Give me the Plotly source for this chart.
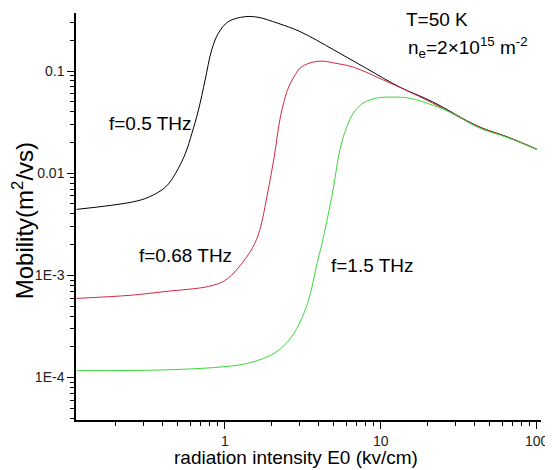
import plotly.graph_objects as go

# ---- data ----
E_black = [0.112, 0.255, 0.327, 0.417, 0.482, 0.558, 0.614, 0.677, 0.747, 0.823, 0.908, 1.05, 1.34,
           1.63, 2.18, 3.04, 5.0, 8.1, 13.1, 21.5, 42.2, 65.2, 100]
mu_black = [0.00443, 0.00523, 0.00586, 0.00734, 0.00994, 0.0156, 0.0245, 0.0415, 0.0816, 0.161, 0.234,
            0.304, 0.340, 0.336, 0.294, 0.243, 0.161, 0.106, 0.0702, 0.050, 0.0287, 0.0226, 0.0172]

E_red = [0.112, 0.25, 0.419, 0.784, 1.0, 1.21, 1.51, 1.67, 1.88, 2.07, 2.27, 2.52, 2.77, 3.04, 3.52,
         4.2, 5.0, 6.7, 10.4, 14.5, 21.5, 42.2, 65.2, 100]
mu_red = [5.96e-4, 6.4e-4, 6.97e-4, 7.8e-4, 8.9e-4, 1.17e-3, 1.88e-3, 2.75e-3, 6.4e-3, 0.0143, 0.0354,
          0.065, 0.0873, 0.107, 0.120, 0.125, 0.120, 0.109, 0.0816, 0.065, 0.0486, 0.0285, 0.0225, 0.0172]

E_green = [0.112, 0.419, 1.0, 1.40, 1.89, 2.28, 2.77, 3.21, 3.54, 3.90, 4.2, 4.51, 4.98, 5.46, 6.04,
           6.67, 7.71, 9.36, 11.9, 15.2, 21.4, 28.7, 42.2, 65.2, 100]
mu_green = [1.17e-4, 1.19e-4, 1.28e-4, 1.38e-4, 1.61e-4, 1.92e-4, 2.70e-4, 4.24e-4, 6.67e-4, 1.31e-3,
            2.06e-3, 3.4e-3, 7.3e-3, 0.0168, 0.0282, 0.0388, 0.0486, 0.0543, 0.0556, 0.0543, 0.0465,
            0.0388, 0.0280, 0.0223, 0.0171]

x_tickvals = [1, 10, 100]
x_ticktext = ["1", "10", "100"]
x_minor = [0.2, 0.3, 0.4, 0.5, 0.6, 0.7, 0.8, 0.9, 2, 3, 4, 5, 6, 7, 8, 9,
           20, 30, 40, 50, 60, 70, 80, 90]
y_tickvals = [1e-4, 1e-3, 1e-2, 1e-1]
y_ticktext = ["1E-4", "1E-3", "0.01", "0.1"]
y_minor = [4e-5, 5e-5, 6e-5, 7e-5, 8e-5, 9e-5,
           2e-4, 3e-4, 4e-4, 5e-4, 6e-4, 7e-4, 8e-4, 9e-4,
           2e-3, 3e-3, 4e-3, 5e-3, 6e-3, 7e-3, 8e-3, 9e-3,
           2e-2, 3e-2, 4e-2, 5e-2, 6e-2, 7e-2, 8e-2, 9e-2,
           0.2, 0.3]

FONT = "Liberation Sans, Arial, sans-serif"

fig = go.Figure()
line_style = dict(width=1, shape="spline", smoothing=1.0)
fig.add_trace(go.Scatter(x=E_black, y=mu_black, mode="lines", line=dict(color="black", **line_style)))
fig.add_trace(go.Scatter(x=E_red, y=mu_red, mode="lines", line=dict(color="#d4283c", **line_style)))
fig.add_trace(go.Scatter(x=E_green, y=mu_green, mode="lines", line=dict(color="#3ad83a", **line_style)))

axis_common = dict(showgrid=False, zeroline=False, showline=True, linecolor="black", linewidth=1.5,
                   ticks="outside", ticklen=7, tickwidth=1, tickcolor="black",
                   ticklabeloverflow="allow",
                   tickfont=dict(family=FONT, size=14, color="#222"))

fig.update_xaxes(type="log", range=[-0.955, 2.028], tickmode="array",
                 tickvals=x_tickvals, ticktext=x_ticktext,
                 minor=dict(tickmode="array", tickvals=x_minor, ticks="outside", ticklen=4,
                            tickcolor="black", tickwidth=1),
                 **axis_common)
fig.update_yaxes(type="log", range=[-4.415, -0.432], tickmode="array",
                 tickvals=y_tickvals, ticktext=y_ticktext,
                 minor=dict(tickmode="array", tickvals=y_minor, ticks="outside", ticklen=4,
                            tickcolor="black", tickwidth=1),
                 **axis_common)

ann_font = dict(family=FONT, size=19, color="black")
annotations = [
    dict(x=-0.759, y=-1.51, text="f=0.5 THz", xanchor="left", yanchor="middle"),
    dict(x=-0.562, y=-2.804, text="f=0.68 THz", xanchor="left", yanchor="middle"),
    dict(x=0.667, y=-2.902, text="f=1.5 THz", xanchor="left", yanchor="middle"),
    dict(x=1.149, y=-0.50, text="T=50 K", xanchor="left", yanchor="middle"),
    dict(x=1.162, y=-0.765, text="n<sub>e</sub>=2×10<sup>15</sup> m<sup>-2</sup>",
         xanchor="left", yanchor="middle"),
]
for a in annotations:
    a.update(xref="x", yref="y", showarrow=False, font=ann_font)
    fig.add_annotation(**a)

# axis titles
fig.add_annotation(xref="paper", yref="paper", x=0.473, y=0, yshift=-37,
                   text="radiation intensity E0 (kv/cm)", showarrow=False,
                   xanchor="center", yanchor="middle",
                   font=dict(family=FONT, size=19, color="black"))
fig.add_annotation(xref="paper", yref="paper", x=-0.1147, y=0.49,
                   text="Mobility(m<sup>2</sup>/vs)", showarrow=False, textangle=-90,
                   xanchor="center", yanchor="middle",
                   font=dict(family=FONT, size=24, color="black"))

# the page body adds an 8px offset, so the figure is 8px smaller and margins shifted
fig.update_layout(width=545, height=462, showlegend=False,
                  margin=dict(l=68, r=6, t=5, b=50),
                  paper_bgcolor="white", plot_bgcolor="white")

fig.write_html("out.html")
